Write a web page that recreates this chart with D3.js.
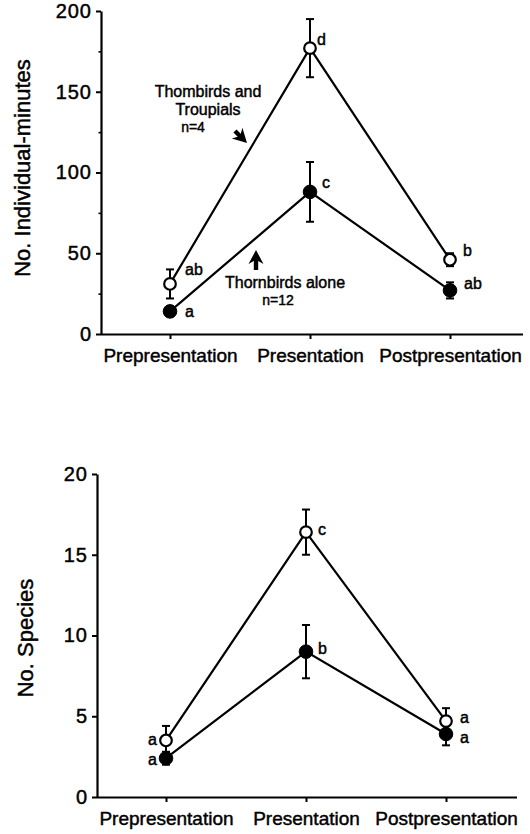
<!DOCTYPE html>
<html>
<head>
<meta charset="utf-8">
<script src="https://cdn.jsdelivr.net/npm/d3@7"></script>
<style>
html,body{margin:0;padding:0;background:#fff;}
svg{display:block;}
svg text{stroke:#000;stroke-width:0.45px;fill:#000;}
</style>
</head>
<body>
<svg id="chart" width="530" height="834"></svg>
<script>
// ---------- data ----------
const categories = ["Prepresentation", "Presentation", "Postpresentation"];

// Panel A: No. Individual-minutes
const minutesWithTroupials = [31, 177, 46];      // open circles
const minutesWithTroupialsErr = [9, 18, 4];
const minutesAlone = [14, 88, 27];               // filled circles
const minutesAloneErr = [3, 18.5, 5];
const minutesWithTroupialsLetters = ["ab", "d", "b"];
const minutesAloneLetters = ["a", "c", "ab"];
const minutesTicks = [0, 50, 100, 150, 200];
const minutesMinorTicks = [25, 75, 125, 175];

// Panel B: No. Species
const speciesWithTroupials = [3.5, 16.4, 4.7];   // open circles
const speciesWithTroupialsErr = [0.9, 1.4, 0.8];
const speciesAlone = [2.4, 9.0, 3.9];            // filled circles
const speciesAloneErr = [0.4, 1.65, 0.7];
const speciesWithTroupialsLetters = ["a", "c", "a"];
const speciesAloneLetters = ["a", "b", "a"];
const speciesTicks = [0, 5, 10, 15, 20];

// ---------- drawing ----------
const svg = d3.select("#chart");
const FONT = "'Liberation Sans', Arial, Helvetica, sans-serif";

function drawPanel(cfg) {
  const g = svg.append("g");
  const x = d3.scalePoint().domain(categories).range([cfg.x0 + cfg.firstOff, cfg.x0 + cfg.firstOff + 2 * cfg.step]);
  const y = d3.scaleLinear().domain(cfg.domain).range([cfg.yBottom, cfg.yTop]);

  // y axis
  const yAxis = g.append("g")
    .attr("transform", `translate(${cfg.x0},0)`)
    .call(d3.axisLeft(y).tickValues(cfg.ticks).tickSize(5).tickPadding(4).tickSizeOuter(0).tickFormat(d3.format("d")));
  yAxis.select(".domain").attr("stroke", "#000").attr("stroke-width", 2.2);
  yAxis.selectAll(".tick line").attr("stroke", "#000").attr("stroke-width", 2);
  yAxis.selectAll(".tick text")
    .style("font-family", FONT).style("font-size", "20px")
    .style("letter-spacing", "1px");
  if (cfg.minor) {
    g.append("g").attr("transform", `translate(${cfg.x0},0)`)
      .call(d3.axisLeft(y).tickValues(cfg.minor).tickSize(2.5).tickFormat(""))
      .call(a => a.select(".domain").remove())
      .selectAll(".tick line").attr("stroke", "#000").attr("stroke-width", 1.6);
  }

  // x axis
  const xAxis = g.append("g")
    .attr("transform", `translate(0,${cfg.yBottom})`)
    .call(d3.axisBottom(x).tickSize(5).tickPadding(10).tickSizeOuter(0));
  xAxis.select(".domain").attr("d", `M${cfg.x0},0.5H${cfg.xEnd}`)
    .attr("stroke", "#000").attr("stroke-width", 2.2);
  xAxis.selectAll(".tick line").attr("stroke", "#000").attr("stroke-width", 2);
  xAxis.selectAll(".tick text")
    .style("font-family", FONT).style("font-size", "19px");

  // y title
  g.append("text")
    .attr("transform", `translate(${cfg.titleX},${cfg.titleY}) rotate(-90)`)
    .attr("text-anchor", "middle")
    .style("font-family", FONT).style("font-size", "22px")
    .text(cfg.title);

  const series = [
    {vals: cfg.open, err: cfg.openErr, letters: cfg.openLetters, filled: false, off: cfg.openOff},
    {vals: cfg.filled, err: cfg.filledErr, letters: cfg.filledLetters, filled: true, off: cfg.filledOff}
  ];
  const line = d3.line().x((d, i) => x(categories[i])).y(d => y(d));

  // lines
  series.forEach(s => {
    g.append("path").attr("d", line(s.vals))
      .attr("fill", "none").attr("stroke", "#000").attr("stroke-width", 2.2);
  });
  // error bars
  series.forEach(s => {
    s.vals.forEach((v, i) => {
      const cx = x(categories[i]);
      const eg = g.append("g").attr("stroke", "#000").attr("stroke-width", 2);
      eg.append("line").attr("x1", cx).attr("x2", cx).attr("y1", y(v - s.err[i])).attr("y2", y(v + s.err[i]));
      [v - s.err[i], v + s.err[i]].forEach(e => {
        eg.append("line").attr("x1", cx - 4).attr("x2", cx + 4).attr("y1", y(e)).attr("y2", y(e));
      });
    });
  });
  // markers
  series.forEach(s => {
    g.selectAll(null).data(s.vals).enter().append("circle")
      .attr("cx", (d, i) => x(categories[i])).attr("cy", d => y(d))
      .attr("r", s.filled ? 6.8 : 5.8)
      .attr("fill", s.filled ? "#000" : "#fff")
      .attr("stroke", "#000").attr("stroke-width", s.filled ? 1 : 2.2);
  });
  // significance letters
  series.forEach(s => {
    s.vals.forEach((v, i) => {
      const o = s.off[i];
      g.append("text")
        .attr("x", x(categories[i]) + o[0]).attr("y", y(v) + o[1])
        .attr("text-anchor", o[0] < 0 ? "end" : "start")
        .attr("dominant-baseline", "central")
        .style("font-family", FONT).style("font-size", "16px")
        .text(s.letters[i]);
    });
  });
  return {g, x, y};
}

drawPanel({
  x0: 101, xEnd: 523, firstOff: 69, step: 140,
  yTop: 11, yBottom: 334, domain: [0, 200],
  ticks: minutesTicks, minor: minutesMinorTicks,
  title: "No. Individual-minutes", titleX: 30, titleY: 168,
  open: minutesWithTroupials, openErr: minutesWithTroupialsErr, openLetters: minutesWithTroupialsLetters,
  filled: minutesAlone, filledErr: minutesAloneErr, filledLetters: minutesAloneLetters,
  openOff: [[15, -14], [7, -9], [13, -9]],
  filledOff: [[15, 0], [12, -9], [14, -7]]
});

drawPanel({
  x0: 97, xEnd: 517, firstOff: 69, step: 140,
  yTop: 474, yBottom: 797, domain: [0, 20],
  ticks: speciesTicks, minor: null,
  title: "No. Species", titleX: 33, titleY: 638,
  open: speciesWithTroupials, openErr: speciesWithTroupialsErr, openLetters: speciesWithTroupialsLetters,
  filled: speciesAlone, filledErr: speciesAloneErr, filledLetters: speciesAloneLetters,
  openOff: [[-9, -1], [12, -3], [14, -4]],
  filledOff: [[-9, 1], [12, -3], [14, 3]]
});

// ---------- annotations (panel A) ----------
const ann = svg.append("g").style("font-family", FONT).style("font-size", "16px").attr("text-anchor", "middle");
ann.append("text").attr("x", 208).attr("y", 97).text("Thombirds and");
ann.append("text").attr("x", 208).attr("y", 115).text("Troupials");
ann.append("text").attr("x", 193).attr("y", 132).style("font-size", "14px").text("n=4");
ann.append("text").attr("x", 285).attr("y", 288).text("Thornbirds alone");
ann.append("text").attr("x", 278).attr("y", 305).style("font-size", "14px").text("n=12");

const arrowPath = "M0,0 L-7.5,14 L-2.2,11 L-2.2,20 L2.2,20 L2.2,11 L7.5,14 Z";
svg.append("path").attr("d", arrowPath).attr("fill", "#000")
  .attr("transform", "translate(256,250)");
svg.append("path").attr("d", "M0,0 L-7.5,14 L-2.2,11 L-2.2,17 L2.2,17 L2.2,11 L7.5,14 Z").attr("fill", "#000")
  .attr("transform", "translate(247,143) rotate(135)");
</script>
</body>
</html>
